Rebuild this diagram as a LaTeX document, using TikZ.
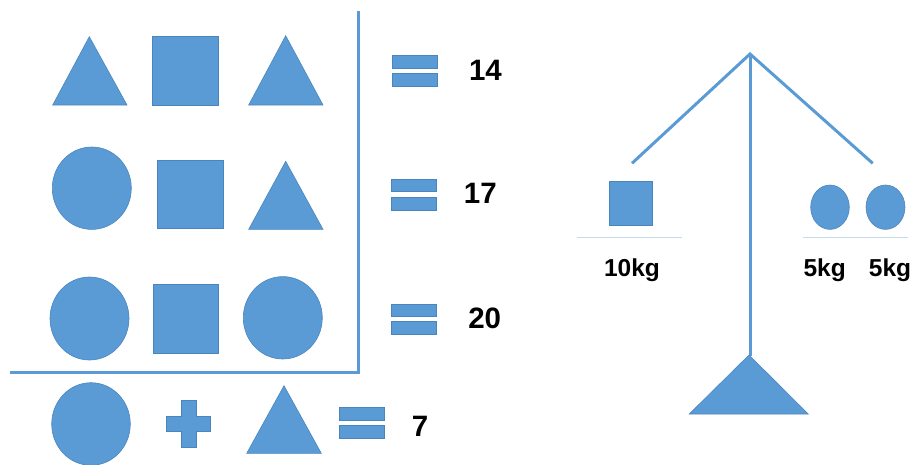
\documentclass[tikz,border=0pt]{standalone}
\usepackage{fontspec}
\setmainfont{Liberation Sans}
\definecolor{shapeblue}{HTML}{5B9BD5}
\definecolor{edgeblue}{HTML}{4A86BE}
\definecolor{panblue}{HTML}{C5DCF0}
\begin{document}
\begin{tikzpicture}[x=1pt,y=-1pt,
  shp/.style={fill=shapeblue,draw=edgeblue,line width=0.6pt},
  bar/.style={draw=shapeblue,line width=3pt},
  pan/.style={draw=panblue,line width=1.2pt},
  num/.style={font=\fontsize{29.5}{29.5}\bfseries\selectfont,inner sep=0pt},
  kg/.style={font=\fontsize{24.5}{24.5}\bfseries\selectfont,inner sep=0pt}]
\path[use as bounding box] (0,0) rectangle (914,464);
% row 1
\path[shp] (89.3,36.7) -- (127,105) -- (52.7,105) -- cycle;
\path[shp] (152.7,36.7) rectangle (218.7,105);
\path[shp] (285.7,35.7) -- (323,105) -- (248.7,105) -- cycle;
\path[shp] (392.3,55.3) rectangle (437.7,68.3);
\path[shp] (392.3,73.7) rectangle (437.7,86.7);
\node[num] (n14) at (485.5,70.5) {14};
% row 2
\path[shp] (91.8,188.2) ellipse [x radius=39.5pt, y radius=41.2pt];
\path[shp] (157,160) rectangle (223.3,228.7);
\path[shp] (285.7,161.3) -- (323,229.3) -- (248.7,229.3) -- cycle;
\path[shp] (391.7,179.3) rectangle (436.7,191.7);
\path[shp] (391.7,197.7) rectangle (436.7,210);
\node[num] (n17) at (480.3,193) {17};
% row 3
\path[shp] (89.5,318.5) ellipse [x radius=39.5pt, y radius=41.5pt];
\path[shp] (153.3,284.7) rectangle (218.7,353);
\path[shp] (282.8,317.8) ellipse [x radius=39.5pt, y radius=41.2pt];
\path[shp] (391.3,304) rectangle (436.7,316.7);
\path[shp] (391.3,321.3) rectangle (436.7,334.7);
\node[num] (n20) at (484.7,318) {20};
% frame
\draw[bar] (358.7,11) -- (358.7,372.3);
\draw[bar] (10,372.3) -- (360.2,372.3);
% row 4
\path[shp] (91,424) ellipse [x radius=39.3pt, y radius=41.3pt];
\path[shp] (181.3,400) -- (196,400) -- (196,416.7) -- (210.7,416.7) -- (210.7,431)
  -- (196,431) -- (196,447.7) -- (181.3,447.7) -- (181.3,431) -- (166.7,431)
  -- (166.7,416.7) -- (181.3,416.7) -- cycle;
\path[shp] (284,385.7) -- (321.3,453.3) -- (246.7,453.3) -- cycle;
\path[shp] (339.7,407.3) rectangle (384.3,420.7);
\path[shp] (339.7,425.3) rectangle (384.3,438.7);
\node[num] (n7) at (420,426) {7};
% balance
\coordinate (apex) at (750,54);
\coordinate (larm) at (632,163.3);
\coordinate (rarm) at (872.7,163.3);
\coordinate (base) at (750,356);
\draw[bar] (larm) -- (apex) -- (rarm);
\draw[bar] (apex) -- (base);
\path[shp] (749,355) -- (808.3,414) -- (689.3,414) -- cycle;
\path[shp] (609.3,181) rectangle (652,225.7);
\path[shp] (830,207.2) ellipse [x radius=19.3pt, y radius=22.2pt];
\path[shp] (885.5,207.2) ellipse [x radius=19.5pt, y radius=22.2pt];
\draw[pan] (577.3,237.7) -- (682.3,237.7);
\draw[pan] (803.3,237.7) -- (908.3,237.7);
\node[kg,anchor=base] (k10) at (632,276) {10kg};
\node[kg,anchor=base] (k5a) at (824.7,276) {5kg};
\node[kg,anchor=base] (k5b) at (890,276) {5kg};
\end{tikzpicture}
\end{document}
